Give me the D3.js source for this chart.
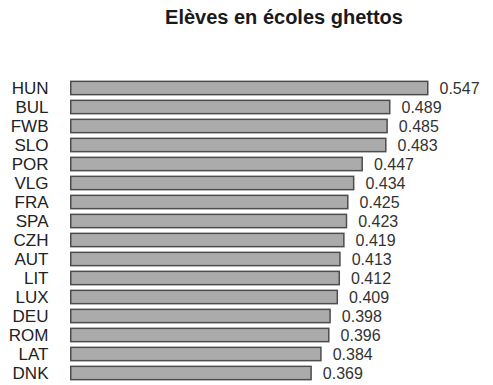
<!DOCTYPE html>
<html><head><meta charset="utf-8">
<script src="https://cdn.jsdelivr.net/npm/d3@7"></script>
<style>body{margin:0;background:#fff}svg{display:block}</style>
</head><body>
<script>
const title = "Elèves en écoles ghettos";
const countries = ["HUN","BUL","FWB","SLO","POR","VLG","FRA","SPA","CZH","AUT","LIT","LUX","DEU","ROM","LAT","DNK"];
const values = [0.547,0.489,0.485,0.483,0.447,0.434,0.425,0.423,0.419,0.413,0.412,0.409,0.398,0.396,0.384,0.369];
const valueLabels = ["0.547","0.489","0.485","0.483","0.447","0.434","0.425","0.423","0.419","0.413","0.412","0.409","0.398","0.396","0.384","0.369"];

const W = 493, H = 385;
const svg = d3.select("body").append("svg").attr("width", W).attr("height", H);
const font = "'Liberation Sans', Arial, Helvetica, sans-serif";

const x = d3.scaleLinear().domain([0, 0.547]).range([70, 428.5]);
const y = d3.scaleBand().domain(countries).range([78.5, 382.5]).paddingInner(0.3).paddingOuter(0.15);

svg.append("text").attr("x", 284).attr("y", 24)
  .attr("text-anchor", "middle").attr("font-family", font)
  .attr("font-weight", "bold").attr("font-size", 20).attr("fill", "#1a1a1a")
  .text(title);

const rows = svg.append("g").selectAll("g").data(countries).join("g");

rows.append("rect")
  .attr("x", x(0) + 0.75)
  .attr("y", d => y(d))
  .attr("width", (d, i) => x(values[i]) - x(0) - 1.5)
  .attr("height", y.bandwidth())
  .attr("fill", "#ababab").attr("stroke", "#4d4d4d").attr("stroke-width", 1.5);

rows.append("text")
  .attr("x", 48.5)
  .attr("y", d => y(d) + y.bandwidth() / 2)
  .attr("dy", "0.36em")
  .attr("text-anchor", "end")
  .attr("font-family", font).attr("font-size", 17).attr("fill", "#222")
  .text(d => d);

rows.append("text")
  .attr("x", (d, i) => x(values[i]) + 11)
  .attr("y", d => y(d) + y.bandwidth() / 2)
  .attr("dy", "0.38em")
  .attr("font-family", font).attr("font-size", 16).attr("fill", "#333")
  .text((d, i) => valueLabels[i]);
</script>
</body></html>
